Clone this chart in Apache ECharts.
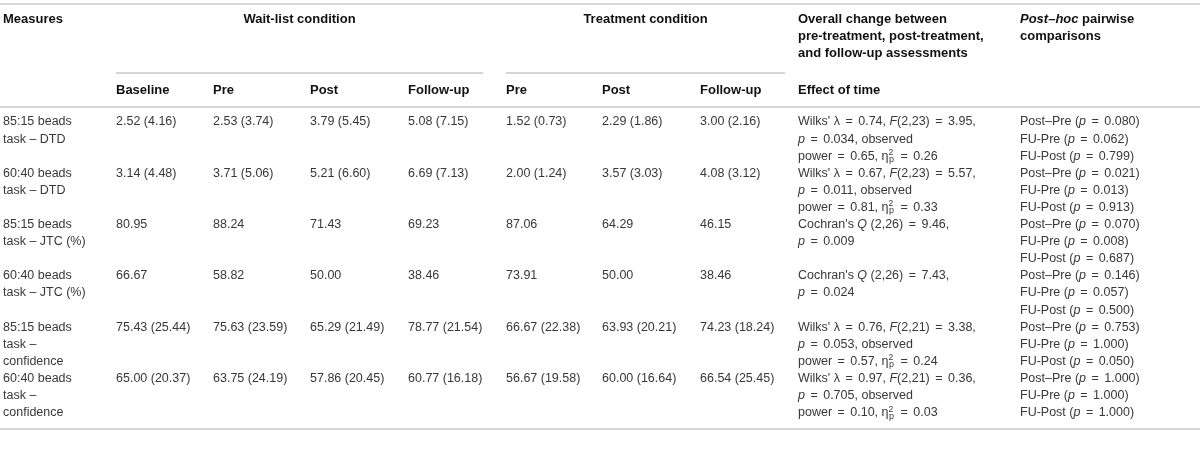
<!DOCTYPE html>
<html lang="en">
<head>
    <meta charset="UTF-8">
    <title>Beads task results</title>
    <script src="https://cdn.jsdelivr.net/npm/echarts@6.0.0/dist/echarts.min.js"></script>
    <style>
        html, body { margin: 0; padding: 0; background: #fff; }
        #table { width: 1200px; height: 456px; }
    </style>
</head>
<body>
    <div id="table"></div>

    <script>
        // header texts
        var measuresHeader = 'Measures';
        var groupHeaders = ['Wait-list condition', 'Treatment condition'];
        var effectHeader = ['Overall change between', 'pre-treatment, post-treatment,', 'and follow-up assessments'];
        var postHocHeader = ['{bi|Post–hoc} pairwise', 'comparisons'];
        var subHeaders = ['Baseline', 'Pre', 'Post', 'Follow-up', 'Pre', 'Post', 'Follow-up', 'Effect of time'];

        // rows
        var measures = [
            ['85:15 beads', 'task – DTD'],
            ['60:40 beads', 'task – DTD'],
            ['85:15 beads', 'task – JTC (%)'],
            ['60:40 beads', 'task – JTC (%)'],
            ['85:15 beads', 'task –', 'confidence'],
            ['60:40 beads', 'task –', 'confidence']
        ];
        var waitBaseline = ['2.52 (4.16)', '3.14 (4.48)', '80.95', '66.67', '75.43 (25.44)', '65.00 (20.37)'];
        var waitPre = ['2.53 (3.74)', '3.71 (5.06)', '88.24', '58.82', '75.63 (23.59)', '63.75 (24.19)'];
        var waitPost = ['3.79 (5.45)', '5.21 (6.60)', '71.43', '50.00', '65.29 (21.49)', '57.86 (20.45)'];
        var waitFollowUp = ['5.08 (7.15)', '6.69 (7.13)', '69.23', '38.46', '78.77 (21.54)', '60.77 (16.18)'];
        var treatPre = ['1.52 (0.73)', '2.00 (1.24)', '87.06', '73.91', '66.67 (22.38)', '56.67 (19.58)'];
        var treatPost = ['2.29 (1.86)', '3.57 (3.03)', '64.29', '50.00', '63.93 (20.21)', '60.00 (16.64)'];
        var treatFollowUp = ['3.00 (2.16)', '4.08 (3.12)', '46.15', '38.46', '74.23 (18.24)', '66.54 (25.45)'];
        var effectOfTime = [
            ["Wilks' λ = 0.74, {i|F}(2,23) = 3.95,", '{i|p} = 0.034, observed', 'power = 0.65, η{sup|2}{sub|p} = 0.26'],
            ["Wilks' λ = 0.67, {i|F}(2,23) = 5.57,", '{i|p} = 0.011, observed', 'power = 0.81, η{sup|2}{sub|p} = 0.33'],
            ["Cochran's {i|Q} (2,26) = 9.46,", '{i|p} = 0.009'],
            ["Cochran's {i|Q} (2,26) = 7.43,", '{i|p} = 0.024'],
            ["Wilks' λ = 0.76, {i|F}(2,21) = 3.38,", '{i|p} = 0.053, observed', 'power = 0.57, η{sup|2}{sub|p} = 0.24'],
            ["Wilks' λ = 0.97, {i|F}(2,21) = 0.36,", '{i|p} = 0.705, observed', 'power = 0.10, η{sup|2}{sub|p} = 0.03']
        ];
        var postHoc = [
            ['Post–Pre ({i|p} = 0.080)', 'FU-Pre ({i|p} = 0.062)', 'FU-Post ({i|p} = 0.799)'],
            ['Post–Pre ({i|p} = 0.021)', 'FU-Pre ({i|p} = 0.013)', 'FU-Post ({i|p} = 0.913)'],
            ['Post–Pre ({i|p} = 0.070)', 'FU-Pre ({i|p} = 0.008)', 'FU-Post ({i|p} = 0.687)'],
            ['Post–Pre ({i|p} = 0.146)', 'FU-Pre ({i|p} = 0.057)', 'FU-Post ({i|p} = 0.500)'],
            ['Post–Pre ({i|p} = 0.753)', 'FU-Pre ({i|p} = 1.000)', 'FU-Post ({i|p} = 0.050)'],
            ['Post–Pre ({i|p} = 1.000)', 'FU-Pre ({i|p} = 1.000)', 'FU-Post ({i|p} = 1.000)']
        ];

        // layout (axis units = px of the 1200x456 page)
        var colX = [3, 116, 213, 310, 408, 506, 602, 700, 798, 1020];
        var headLineY = [19, 36, 53];
        var subHeadY = 90;
        var firstLineY = 122;
        var lineH = 17.1;
        var rowPitch = 3 * lineH;
        var rules = [[0, 1200, 4], [116, 483, 73], [506, 785, 73], [0, 1200, 107], [0, 1200, 429]];

        var FONT = 'Liberation Sans, Arial, sans-serif';
        var BODY_SIZE = 12.5;
        var HEAD_SIZE = 13;
        function rs(extra) {
            var s = { fontFamily: FONT, fontSize: BODY_SIZE, fill: '#383838' };
            for (var k in extra) s[k] = extra[k];
            return s;
        }
        var bodyRich = {
            i: rs({ fontStyle: 'italic' }),
            eq: rs({ padding: [0, 2, 0, 2] }),
            sup: rs({ fontSize: 8.5, padding: [0, 0, 7, 0], width: 0.5 }),
            sub: rs({ fontSize: 9, padding: [7, 1, 0, 0] })
        };
        var headRich = {
            bi: rs({ fontStyle: 'italic', fontWeight: 'bold', fontSize: HEAD_SIZE, fill: '#111' })
        };

        // math-style spacing around "="
        function eq(t) { return t.replace(/ = /g, ' {eq|=} '); }

        // build cell list
        var cells = [];
        function add(x, y, text, head, align) {
            cells.push({ x: x, y: y, text: head ? text : eq(text), head: head, align: align || 'left' });
        }
        add(colX[0], headLineY[0], measuresHeader, true);
        add((rules[1][0] + rules[1][1]) / 2, headLineY[0], groupHeaders[0], true, 'center');
        add((rules[2][0] + rules[2][1]) / 2, headLineY[0], groupHeaders[1], true, 'center');
        effectHeader.forEach(function (t, i) { add(colX[8], headLineY[i], t, true); });
        postHocHeader.forEach(function (t, i) { add(colX[9], headLineY[i], t, true); });
        subHeaders.forEach(function (t, i) { add(colX[i + 1], subHeadY, t, true); });

        var valueCols = [waitBaseline, waitPre, waitPost, waitFollowUp, treatPre, treatPost, treatFollowUp];
        measures.forEach(function (lines, r) {
            var y0 = firstLineY + r * rowPitch;
            lines.forEach(function (t, j) { add(colX[0], y0 + j * lineH, t, false); });
            valueCols.forEach(function (col, c) { add(colX[c + 1], y0, col[r], false); });
            effectOfTime[r].forEach(function (t, j) { add(colX[8], y0 + j * lineH, t, false); });
            postHoc[r].forEach(function (t, j) { add(colX[9], y0 + j * lineH, t, false); });
        });

        var chart = echarts.init(document.getElementById('table'));
        var option = {
            animation: false,
            grid: { left: 0, right: 0, top: 0, bottom: 0 },
            xAxis: { type: 'value', min: 0, max: 1200, show: false },
            yAxis: { type: 'value', min: 0, max: 456, inverse: true, show: false },
            series: [
                {
                    // horizontal rules
                    type: 'custom',
                    silent: true,
                    data: rules,
                    renderItem: function (params, api) {
                        var a = api.coord([api.value(0), api.value(2)]);
                        var b = api.coord([api.value(1), api.value(2)]);
                        return {
                            type: 'line',
                            shape: { x1: a[0], y1: a[1], x2: b[0], y2: b[1] },
                            style: { stroke: '#c9c9c9', lineWidth: 1.5 }
                        };
                    }
                },
                {
                    // table text
                    type: 'custom',
                    silent: true,
                    data: cells.map(function (c) { return [c.x, c.y]; }),
                    renderItem: function (params, api) {
                        var c = cells[params.dataIndex];
                        var p = api.coord([api.value(0), api.value(1)]);
                        return {
                            type: 'text',
                            x: p[0],
                            y: p[1],
                            style: {
                                text: c.text,
                                fontFamily: FONT,
                                fontSize: c.head ? HEAD_SIZE : BODY_SIZE,
                                fontWeight: c.head ? 'bold' : 'normal',
                                fill: c.head ? '#111' : '#383838',
                                align: c.align,
                                verticalAlign: 'middle',
                                rich: c.head ? headRich : bodyRich
                            }
                        };
                    }
                }
            ]
        };
        chart.setOption(option);
    </script>
</body>
</html>
